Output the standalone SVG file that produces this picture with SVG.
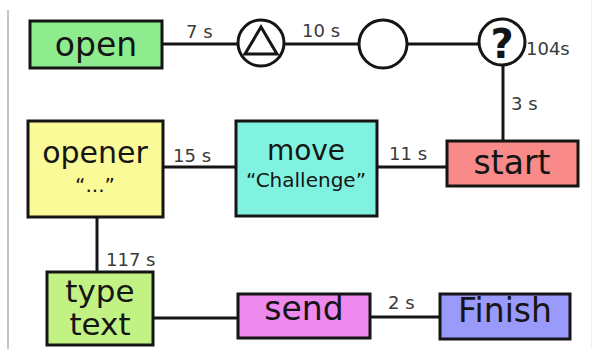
<svg xmlns="http://www.w3.org/2000/svg" width="593" height="349" viewBox="0 0 593 349">
<style>
.box{stroke:#151515;stroke-width:3}
.ln{stroke:#151515;stroke-width:3;fill:none}
.t{font-family:"DejaVu Sans",Verdana,sans-serif;fill:#151515;text-anchor:middle}
.lb{font-family:"DejaVu Sans",Verdana,sans-serif;fill:#3a3a3a;font-size:18px}
</style>
<rect width="593" height="349" fill="#ffffff"/>
<line x1="8" y1="10" x2="8" y2="349" stroke="#c4c4c4" stroke-width="2"/>
<line x1="591.5" y1="0" x2="591.5" y2="349" stroke="#f0f0f0" stroke-width="1"/>
<g id="connectors">
<line class="ln" x1="162" y1="44" x2="238" y2="44"/>
<line class="ln" x1="284" y1="44" x2="359" y2="44"/>
<line class="ln" x1="407" y1="44" x2="479" y2="44"/>
<line class="ln" x1="503" y1="65" x2="503" y2="141"/>
<line class="ln" x1="377" y1="167" x2="447" y2="167"/>
<line class="ln" x1="163" y1="167" x2="236" y2="167"/>
<line class="ln" x1="97" y1="217" x2="97" y2="272"/>
<line class="ln" x1="153" y1="318" x2="238" y2="318"/>
<line class="ln" x1="370" y1="317" x2="440" y2="317"/>
<text class="lb" x="186" y="38">7 s</text>
<text class="lb" x="302" y="37">10 s</text>
<text class="lb" x="526" y="55">104s</text>
<text class="lb" x="511" y="110">3 s</text>
<text class="lb" x="173" y="162">15 s</text>
<text class="lb" x="389" y="160">11 s</text>
<text class="lb" x="106" y="266">117 s</text>
<text class="lb" x="388" y="309">2 s</text>
</g>
<g id="open">
<rect class="box" x="30" y="21" width="132" height="47" fill="#8eec8e"/>
<text class="t" x="96" y="56" font-size="33">open</text>
</g>
<g id="gate-triangle">
<circle class="ln" cx="261" cy="43" r="23" fill="#ffffff"/>
<polygon class="ln" points="261,27 245,54 277,54" fill="#ffffff"/>
</g>
<g id="gate-empty">
<circle class="ln" cx="383" cy="44" r="24" fill="#ffffff"/>
</g>
<g id="gate-question">
<circle class="ln" cx="502" cy="42" r="23" fill="#ffffff"/>
<text class="t" x="502" y="58" font-size="40" font-weight="bold">?</text>
</g>
<g id="opener">
<rect class="box" x="28" y="121" width="135" height="96" fill="#fafa98"/>
<text class="t" x="95" y="163" font-size="30">opener</text>
<text class="t" x="95" y="192" font-size="20">“...”</text>
</g>
<g id="move">
<rect class="box" x="236" y="121" width="141" height="95" fill="#82f2e0"/>
<text class="t" x="306" y="160" font-size="28">move</text>
<text class="t" x="306" y="187" font-size="20">“Challenge”</text>
</g>
<g id="start">
<rect class="box" x="447" y="141" width="131" height="45" fill="#f88a8a"/>
<text class="t" x="512" y="174" font-size="33">start</text>
</g>
<g id="type-text">
<rect class="box" x="47" y="272" width="106" height="73" fill="#c2f284"/>
<text class="t" x="100" y="302" font-size="31">type</text>
<text class="t" x="100" y="335" font-size="31">text</text>
</g>
<g id="send">
<rect class="box" x="238" y="294" width="132" height="44" fill="#ee8aee"/>
<text class="t" x="304" y="320" font-size="33">send</text>
</g>
<g id="finish">
<rect class="box" x="440" y="294" width="130" height="45" fill="#9a9afa"/>
<text class="t" x="505" y="322" font-size="33">Finish</text>
</g>
</svg>
